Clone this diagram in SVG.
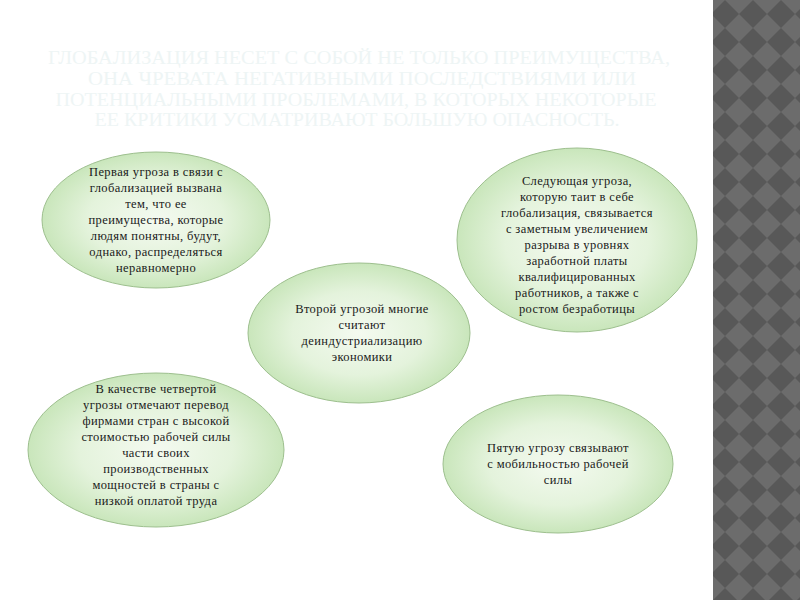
<svg xmlns="http://www.w3.org/2000/svg" width="800" height="600" viewBox="0 0 800 600">
<defs>
<pattern id="diam" x="711" y="0" width="28" height="28" patternUnits="userSpaceOnUse">
<rect width="28" height="28" fill="#6c6c6c"/>
<polygon points="14,0 28,14 14,28 0,14" fill="#585858"/>
</pattern>
<radialGradient id="g" cx="50%" cy="50%" r="50%">
<stop offset="0" stop-color="#f4faf0"/>
<stop offset="0.6" stop-color="#e4f3dc"/>
<stop offset="1" stop-color="#c9e6bb"/>
</radialGradient>
<style>
.el{fill:url(#g);stroke:#9dbf8e;stroke-width:1}
.t{font-family:"Liberation Serif","DejaVu Serif",serif;font-size:12.5px;letter-spacing:0.4px;fill:#1a1a1a;text-anchor:middle}
.title{font-family:"Liberation Serif","DejaVu Serif",serif;font-size:19px;fill:#eef5f5;text-anchor:middle}
</style>
</defs>
<rect width="800" height="600" fill="#ffffff"/>
<rect x="713" y="0" width="87" height="600" fill="url(#diam)"/>
<g id="title">
<text class="title" x="359" y="64" textLength="622" lengthAdjust="spacingAndGlyphs">ГЛОБАЛИЗАЦИЯ НЕСЕТ С СОБОЙ НЕ ТОЛЬКО ПРЕИМУЩЕСТВА,</text>
<text class="title" x="362" y="85" textLength="548" lengthAdjust="spacingAndGlyphs">ОНА ЧРЕВАТА НЕГАТИВНЫМИ ПОСЛЕДСТВИЯМИ ИЛИ</text>
<text class="title" x="356" y="106" textLength="601" lengthAdjust="spacingAndGlyphs">ПОТЕНЦИАЛЬНЫМИ ПРОБЛЕМАМИ, В КОТОРЫХ НЕКОТОРЫЕ</text>
<text class="title" x="357" y="126" textLength="525" lengthAdjust="spacingAndGlyphs">ЕЕ КРИТИКИ УСМАТРИВАЮТ БОЛЬШУЮ ОПАСНОСТЬ.</text>
</g>
<g id="connectors"></g>
<g id="node1">
<ellipse class="el" cx="156" cy="220" rx="114" ry="68"/>
<text class="t" x="156" y="176">Первая угроза в связи с</text>
<text class="t" x="156" y="192">глобализацией вызвана</text>
<text class="t" x="156" y="208">тем, что ее</text>
<text class="t" x="156" y="224">преимущества, которые</text>
<text class="t" x="156" y="240">людям понятны, будут,</text>
<text class="t" x="156" y="256">однако, распределяться</text>
<text class="t" x="156" y="272">неравномерно</text>
</g>
<g id="node2">
<ellipse class="el" cx="577" cy="240" rx="120" ry="92"/>
<text class="t" x="577" y="185">Следующая угроза,</text>
<text class="t" x="577" y="201">которую таит в себе</text>
<text class="t" x="577" y="217">глобализация, связывается</text>
<text class="t" x="577" y="233">с заметным увеличением</text>
<text class="t" x="577" y="249">разрыва в уровнях</text>
<text class="t" x="577" y="265">заработной платы</text>
<text class="t" x="577" y="281">квалифицированных</text>
<text class="t" x="577" y="297">работников, а также с</text>
<text class="t" x="577" y="313">ростом безработицы</text>
</g>
<g id="node3">
<ellipse class="el" cx="359" cy="333" rx="111" ry="70"/>
<text class="t" x="362" y="313">Второй угрозой многие</text>
<text class="t" x="362" y="329">считают</text>
<text class="t" x="362" y="345">деиндустриализацию</text>
<text class="t" x="362" y="361">экономики</text>
</g>
<g id="node4">
<ellipse class="el" cx="156" cy="450" rx="128" ry="77"/>
<text class="t" x="156" y="393">В качестве четвертой</text>
<text class="t" x="156" y="409">угрозы отмечают перевод</text>
<text class="t" x="156" y="425">фирмами стран с высокой</text>
<text class="t" x="156" y="441">стоимостью рабочей силы</text>
<text class="t" x="156" y="457">части своих</text>
<text class="t" x="156" y="473">производственных</text>
<text class="t" x="156" y="489">мощностей в страны с</text>
<text class="t" x="156" y="505">низкой оплатой труда</text>
</g>
<g id="node5">
<ellipse class="el" cx="558" cy="464" rx="115" ry="69"/>
<text class="t" x="558" y="452">Пятую угрозу связывают</text>
<text class="t" x="558" y="468">с мобильностью рабочей</text>
<text class="t" x="558" y="484">силы</text>
</g>
</svg>
